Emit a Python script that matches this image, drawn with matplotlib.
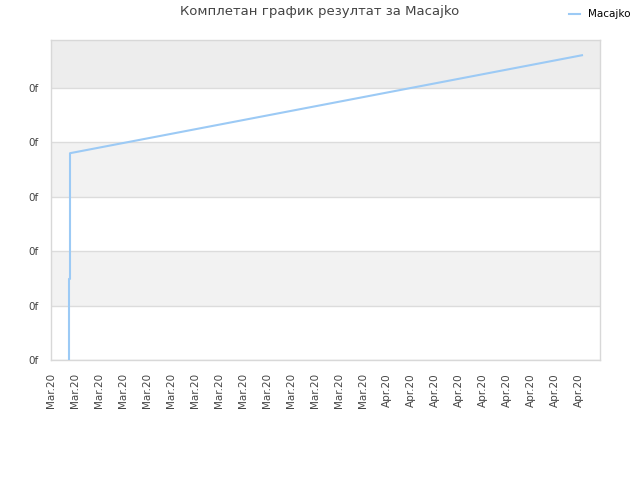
import matplotlib
matplotlib.use('Agg')
import matplotlib.pyplot as plt
import matplotlib.dates as mdates
import numpy as np
import pandas as pd

# data (y in grid units, labels are broken "0f" anyway)
times = ['2020-03-06 12:00', '2020-03-06 12:00', '2020-03-06 12:00',
         '2020-03-06 12:00', '2020-03-06 12:00', '2020-03-06 12:00',
         '2020-03-06 14:00', '2020-03-06 14:00', '2020-03-06 14:00',
         '2020-03-06 14:00', '2020-04-18 06:00']
values = [0.0, 0.2, 0.4, 0.81, 1.19, 1.49, 1.49, 1.78, 2.41, 3.8, 5.6]
series_name = 'Macajko'
title = 'Комплетан график резултат за Macajko'
tick_dates = pd.date_range('2020-03-05', '2020-04-18', freq='2D')
tick_labels = [d.strftime('%b.%y') for d in tick_dates]
y_ticks = [0, 1, 2, 3, 4, 5]

x = mdates.date2num(pd.to_datetime(times))

fig = plt.figure(figsize=(6.4, 4.8), dpi=100)
ax = fig.add_axes([51/640, 120/480, 549/640, 320/480])

xmin = mdates.date2num(pd.Timestamp('2020-03-05'))
xmax = mdates.date2num(pd.Timestamp('2020-04-19 18:00'))
ymax = 5.88

# alternating bands
ax.axhspan(1, 2, color='#f2f2f2', zorder=0, lw=0)
ax.axhspan(3, 4, color='#f2f2f2', zorder=0, lw=0)
ax.axhspan(5, ymax, color='#ededed', zorder=0, lw=0)
for yv in y_ticks:
    ax.axhline(yv, color='#dcdcdc', lw=1, zorder=1)

ax.plot(x, values, color='#9ccaf5', lw=1.5, label=series_name, zorder=3)

ax.set_xlim(xmin, xmax)
ax.set_ylim(0, ymax)
ax.set_xticks(mdates.date2num(tick_dates))
ax.set_xticklabels(tick_labels, rotation=90, fontsize=7.5, color='#444444')
ax.set_yticks(y_ticks)
ax.set_yticklabels(['0f'] * len(y_ticks), fontsize=7.5, color='#444444')
ax.tick_params(axis='x', length=0, pad=9.5)
ax.tick_params(axis='y', length=0, pad=9)

for s in ax.spines.values():
    s.set_color('#d8d8d8')
    s.set_linewidth(1)

fig.text(0.5, 1 - 12/480, title, ha='center', va='center', fontsize=9.5, color='#444444')
fig.legend(loc='upper right', bbox_to_anchor=(1.0, 1.0), frameon=False, fontsize=7.5,
           handlelength=1.0, handletextpad=0.8)

fig.savefig('out.png', dpi=100)
